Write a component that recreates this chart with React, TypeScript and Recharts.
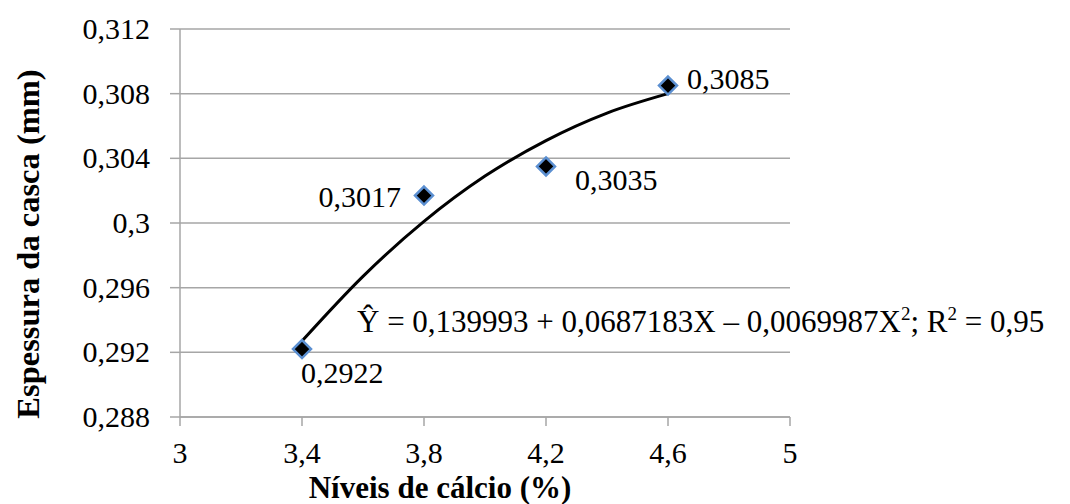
import React from 'react';
import {
  ComposedChart,
  Line,
  Scatter,
  XAxis,
  YAxis,
  CartesianGrid,
} from 'recharts';

// Observed shell thickness at each calcium level
const calcio = [3.4, 3.8, 4.2, 4.6];
const espessura = [0.2922, 0.3017, 0.3035, 0.3085];

// Fitted quadratic trend, sampled along the curve
const curvaX = [3.4, 3.6, 3.8, 4.0, 4.2, 4.4, 4.6];
const curvaY = [0.2927, 0.2967, 0.3001, 0.3029, 0.3051, 0.3068, 0.308];

// Axis ticks
const xTicks = [3, 3.4, 3.8, 4.2, 4.6, 5];
const yTicks = [0.288, 0.292, 0.296, 0.3, 0.304, 0.308, 0.312];

const pontos = calcio.map((x, i) => ({ x, y: espessura[i] }));
const curva = curvaX.map((x, i) => ({ x, y: curvaY[i] }));

// Where each value label sits relative to its marker
const rotuloPos = [
  { dx: -1, dy: 34, anchor: 'start' },
  { dx: -23, dy: 11, anchor: 'end' },
  { dx: 29, dy: 24, anchor: 'start' },
  { dx: 19, dy: 3, anchor: 'start' },
];

const FONT = '"Liberation Serif", "Times New Roman", serif';
const FS = 30;
const GRID = '#a6a6a6';

const virgula = (v: number) => String(v).replace('.', ',');

const YTick = (props: any) => {
  const { x, y, payload } = props;
  return (
    <text x={x} y={y} dy={10} textAnchor="end" fontFamily={FONT} fontSize={FS} fill="#000">
      {virgula(payload.value)}
    </text>
  );
};

const XTick = (props: any) => {
  const { x, y, payload } = props;
  return (
    <text x={x} y={y} dy={35} textAnchor="middle" fontFamily={FONT} fontSize={FS} fill="#000">
      {virgula(payload.value)}
    </text>
  );
};

const Losango = (props: any) => {
  const { cx, cy, payload } = props;
  const i = calcio.indexOf(payload.x);
  const p = rotuloPos[i] || rotuloPos[0];
  const r = 9;
  return (
    <g>
      <polygon
        points={`${cx},${cy - r} ${cx + r},${cy} ${cx},${cy + r} ${cx - r},${cy}`}
        fill="#000"
        stroke="#5b8fd1"
        strokeWidth={2.5}
      />
      <text
        x={cx + p.dx}
        y={cy + p.dy}
        textAnchor={p.anchor as any}
        fontFamily={FONT}
        fontSize={FS}
        fill="#000"
      >
        {virgula(payload.y)}
      </text>
    </g>
  );
};

export default function App() {
  return (
    <div
      style={{
        position: 'absolute',
        left: 0,
        top: 0,
        width: 1070,
        height: 504,
        background: '#fff',
      }}
    >
      <ComposedChart
        width={1070}
        height={504}
        data={curva}
        margin={{ top: 29, right: 280, bottom: 0, left: 0 }}
      >
        <CartesianGrid horizontal vertical={false} stroke={GRID} strokeWidth={1.5} />
        <XAxis
          dataKey="x"
          type="number"
          domain={[3, 5]}
          ticks={xTicks}
          height={87}
          tickSize={9}
          axisLine={{ stroke: GRID, strokeWidth: 1.5 }}
          tickLine={{ stroke: GRID, strokeWidth: 1.5 }}
          tick={<XTick />}
          interval={0}
        />
        <YAxis
          type="number"
          domain={[0.288, 0.312]}
          ticks={yTicks}
          width={180}
          tickSize={10}
          tickMargin={20}
          axisLine={{ stroke: GRID, strokeWidth: 1.5 }}
          tickLine={{ stroke: GRID, strokeWidth: 1.5 }}
          tick={<YTick />}
          interval={0}
        />
        <Line
          data={curva}
          dataKey="y"
          type="monotone"
          stroke="#000"
          strokeWidth={3}
          dot={false}
          activeDot={false}
          isAnimationActive={false}
        />
        <Scatter data={pontos} dataKey="y" shape={<Losango />} isAnimationActive={false} />
      </ComposedChart>
      <svg
        width={1070}
        height={504}
        style={{ position: 'absolute', left: 0, top: 0, pointerEvents: 'none' }}
      >
        <text
          x={28}
          y={244}
          transform="rotate(-90 28 244)"
          dy={11}
          textAnchor="middle"
          fontFamily={FONT}
          fontSize={32.5}
          fontWeight="bold"
          fill="#000"
        >
          Espessura da casca (mm)
        </text>
        <text
          x={440}
          y={498}
          textAnchor="middle"
          fontFamily={FONT}
          fontSize={31}
          fontWeight="bold"
          fill="#000"
        >
          Níveis de cálcio (%)
        </text>
        <text x={357} y={332} fontFamily={FONT} fontSize={31} fill="#000">
          Ŷ = 0,139993 + 0,0687183X – 0,0069987X
          <tspan fontSize={19} dy={-12}>2</tspan>
          <tspan dy={12}>; R</tspan>
          <tspan fontSize={19} dy={-12}>2</tspan>
          <tspan dy={12}> = 0,95</tspan>
        </text>
      </svg>
    </div>
  );
}
